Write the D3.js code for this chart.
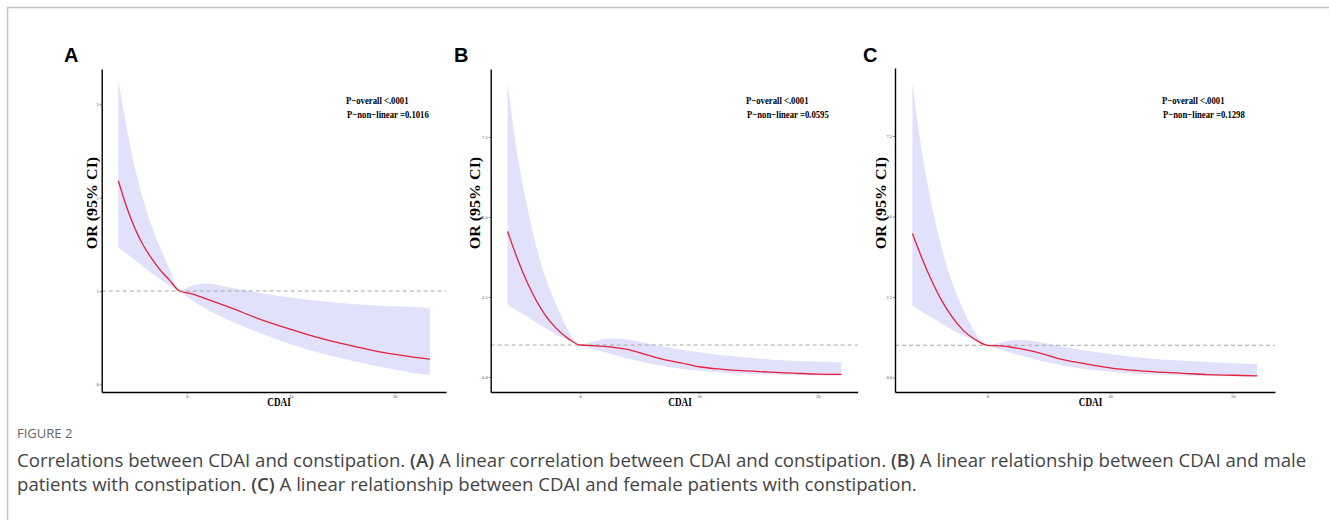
<!DOCTYPE html>
<html>
<head>
<meta charset="utf-8">
<script src="https://cdn.jsdelivr.net/npm/d3@7"></script>
<style>
  html, body { margin: 0; padding: 0; background: #fff; }
  svg { display: block; }
</style>
</head>
<body>
<svg id="fig" width="1329" height="520"></svg>
<script>
// ---- Restricted cubic spline estimates: OR and 95% CI by CDAI ----
// (A) all participants
const cdaiA  = [-6.6, -5.8, -5.0, -4.2, -3.4, -2.6, -1.7, -0.7, 0.5, 2, 4, 7, 10, 13, 16, 19, 22, 23.4];
const orA    = [2.18, 1.90, 1.67, 1.49, 1.35, 1.23, 1.12, 1.00, 0.97, 0.91, 0.83, 0.70, 0.59, 0.49, 0.41, 0.34, 0.29, 0.27];
const lowerA = [1.47, 1.40, 1.33, 1.26, 1.19, 1.13, 1.06, 1.00, 0.90, 0.80, 0.69, 0.55, 0.43, 0.33, 0.25, 0.18, 0.12, 0.10];
const upperA = [3.25, 2.75, 2.32, 1.98, 1.70, 1.47, 1.24, 1.00, 1.06, 1.08, 1.04, 0.98, 0.93, 0.89, 0.86, 0.84, 0.83, 0.82];

// (B) male
const cdaiB  = [-6.1, -5.3, -4.5, -3.7, -2.9, -2.0, -1.0, 0, 1, 2, 3, 4, 5, 6, 7, 8.5, 10, 12, 14, 16, 18, 20, 22];
const orB    = [4.55, 3.72, 3.00, 2.40, 1.92, 1.52, 1.20, 1.00, 0.98, 0.96, 0.92, 0.86, 0.76, 0.65, 0.55, 0.44, 0.32, 0.24, 0.19, 0.15, 0.12, 0.09, 0.08];
const lowerB = [2.27, 2.08, 1.90, 1.70, 1.52, 1.33, 1.15, 1.00, 0.88, 0.78, 0.68, 0.58, 0.49, 0.41, 0.34, 0.26, 0.20, 0.14, 0.10, 0.08, 0.06, 0.05, 0.04];
const upperB = [9.20, 7.00, 5.40, 4.10, 3.10, 2.25, 1.45, 1.00, 1.10, 1.18, 1.20, 1.17, 1.10, 1.02, 0.95, 0.85, 0.77, 0.68, 0.61, 0.55, 0.51, 0.48, 0.46];

// (C) female
const cdaiC  = [-6.1, -5.3, -4.5, -3.7, -2.9, -2.0, -1.0, 0, 1, 2, 3, 4, 5, 6, 7, 8.5, 10, 12, 14, 16, 18, 20, 22];
const orC    = [4.47, 3.68, 2.98, 2.38, 1.90, 1.48, 1.18, 1.00, 0.98, 0.94, 0.87, 0.79, 0.68, 0.57, 0.49, 0.39, 0.30, 0.22, 0.17, 0.13, 0.09, 0.07, 0.05];
const lowerC = [2.23, 2.04, 1.86, 1.67, 1.49, 1.31, 1.14, 1.00, 0.88, 0.76, 0.65, 0.55, 0.46, 0.38, 0.31, 0.24, 0.18, 0.12, 0.09, 0.06, 0.05, 0.04, 0.03];
const upperC = [9.15, 6.95, 5.30, 4.00, 3.00, 2.15, 1.40, 1.00, 1.08, 1.15, 1.16, 1.12, 1.04, 0.97, 0.90, 0.81, 0.73, 0.64, 0.57, 0.52, 0.48, 0.44, 0.42];

// ---- Axis ticks and annotations ----
const xTicks   = [0, 10, 20];
const yTicksA  = [0, 1, 2, 3];
const yTicksBC = [0, 2.5, 5, 7.5];
const refOR    = 1;
const pOverall   = ["P\u2212overall <.0001", "P\u2212overall <.0001", "P\u2212overall <.0001"];
const pNonLinear = ["P\u2212non\u2212linear =0.1016", "P\u2212non\u2212linear =0.0595", "P\u2212non\u2212linear =0.1298"];
const panelLetters = ["A", "B", "C"];
const xTitle = "CDAI";
const yTitle = "OR (95% CI)";

// ---- Layout ----
const SERIF = "'Liberation Serif', 'Times New Roman', serif";
const SANS  = "'Liberation Sans', Arial, sans-serif";
const SQUEEZE = 0.8; // horizontal condensing of plot text

const layout = [
  { box: { left: 101.7, right: 446,   top: 69, bottom: 392 }, xDom: [-8.2, 24.95], yDom: [-0.081, 3.377],
    letterX: 64,  pX: 346,  titleX: 92,  cdaiX: 279 },
  { box: { left: 490.7, right: 857.7, top: 69, bottom: 392 }, xDom: [-7.52, 23.37], yDom: [-0.469, 9.625],
    letterX: 454, pX: 746,  titleX: 475, cdaiX: 680 },
  { box: { left: 895,   right: 1275,  top: 68, bottom: 392 }, xDom: [-7.52, 23.45], yDom: [-0.45, 9.61],
    letterX: 863, pX: 1162, titleX: 881, cdaiX: 1090.5 }
];

const series = [
  { cdai: cdaiA, or: orA, lo: lowerA, hi: upperA, yTicks: yTicksA,  fmt: d3.format("d") },
  { cdai: cdaiB, or: orB, lo: lowerB, hi: upperB, yTicks: yTicksBC, fmt: d3.format(".1f") },
  { cdai: cdaiC, or: orC, lo: lowerC, hi: upperC, yTicks: yTicksBC, fmt: d3.format(".1f") }
];

const svg = d3.select("#fig");

// page frame (top and left rules)
svg.append("path")
  .attr("d", "M7.5,520 V7.5 H1329")
  .attr("fill", "none")
  .attr("stroke", "#c4c4c4")
  .attr("stroke-width", 1.5);

function squeezedText(g, x, y, str, sx) {
  return g.append("text")
    .attr("transform", `translate(${x},${y}) scale(${sx},1)`)
    .text(str);
}

series.forEach((s, i) => {
  const L = layout[i];
  const g = svg.append("g");
  const x = d3.scaleLinear().domain(L.xDom).range([L.box.left, L.box.right]);
  const y = d3.scaleLinear().domain(L.yDom).range([L.box.bottom, L.box.top]);
  const rows = s.cdai.map((c, k) => ({ c, or: s.or[k], lo: s.lo[k], hi: s.hi[k] }));

  // confidence band
  g.append("path")
    .datum(rows)
    .attr("d", d3.area().curve(d3.curveMonotoneX)
      .x(d => x(d.c)).y0(d => y(d.lo)).y1(d => y(d.hi)))
    .attr("fill", "#e1e1fb");

  // reference line OR = 1
  g.append("line")
    .attr("x1", L.box.left).attr("x2", L.box.right)
    .attr("y1", y(refOR)).attr("y2", y(refOR))
    .attr("stroke", "#a8a8a8").attr("stroke-width", 1.1)
    .attr("stroke-dasharray", "4,3");

  // OR curve
  g.append("path")
    .datum(rows)
    .attr("d", d3.line().curve(d3.curveMonotoneX).x(d => x(d.c)).y(d => y(d.or)))
    .attr("fill", "none")
    .attr("stroke", "#e5213c")
    .attr("stroke-width", 1.3);

  // axes
  const yAxis = g.append("g")
    .attr("transform", `translate(${L.box.left},0)`)
    .call(d3.axisLeft(y).tickValues(s.yTicks).tickFormat(s.fmt).tickSize(2).tickSizeOuter(0).tickPadding(1));
  const xAxis = g.append("g")
    .attr("transform", `translate(0,${L.box.bottom})`)
    .call(d3.axisBottom(x).tickValues(xTicks).tickSize(2).tickSizeOuter(0).tickPadding(1));
  [yAxis, xAxis].forEach(a => {
    a.select(".domain").attr("stroke", "#000").attr("stroke-width", 1.4);
    a.selectAll(".tick line").attr("stroke", "#333").attr("stroke-width", 0.6);
    a.selectAll(".tick text").attr("font-family", SERIF).attr("font-size", 4.5).attr("fill", "#4d4d4d");
  });

  // axis titles
  squeezedText(g, L.cdaiX, 406, xTitle, SQUEEZE)
    .attr("text-anchor", "middle")
    .attr("font-family", SERIF).attr("font-weight", "bold").attr("font-size", 11.5).attr("fill", "#000");

  g.append("text")
    .attr("transform", `translate(${L.titleX + 5},203) scale(0.95,1) rotate(-90)`)
    .attr("text-anchor", "middle")
    .attr("font-family", SERIF).attr("font-weight", "bold").attr("font-size", 16).attr("fill", "#000")
    .text(yTitle);

  // P-value annotation
  [pOverall[i], pNonLinear[i]].forEach((t, k) => {
    squeezedText(g, L.pX + k, 104 + k * 13.5, t, 0.87)
      .attr("font-family", SERIF).attr("font-weight", "bold").attr("font-size", 10).attr("fill", "#000");
  });

  // panel letter
  g.append("text")
    .attr("x", L.letterX).attr("y", 62)
    .attr("font-family", SANS).attr("font-weight", "bold").attr("font-size", 20).attr("fill", "#000")
    .text(panelLetters[i]);
});

// ---- Caption ----
const capFont = "'Open Sans', 'Noto Sans', sans-serif";
svg.append("text")
  .attr("x", 17).attr("y", 438)
  .attr("font-family", capFont).attr("font-size", 13).attr("fill", "#666")
  .text("FIGURE 2");

const captionLines = [
  [["Correlations between CDAI and constipation. ", false], ["(A)", true],
   [" A linear correlation between CDAI and constipation. ", false], ["(B)", true],
   [" A linear relationship between CDAI and male", false]],
  [["patients with constipation. ", false], ["(C)", true],
   [" A linear relationship between CDAI and female patients with constipation.", false]]
];
captionLines.forEach((parts, li) => {
  const t = svg.append("text")
    .attr("x", 17).attr("y", 467 + li * 24)
    .attr("font-family", capFont).attr("font-size", 18.6).attr("fill", "#444");
  parts.forEach(([str, bold]) => {
    t.append("tspan").attr("font-weight", bold ? 600 : 400).text(str);
  });
});
</script>
</body>
</html>
